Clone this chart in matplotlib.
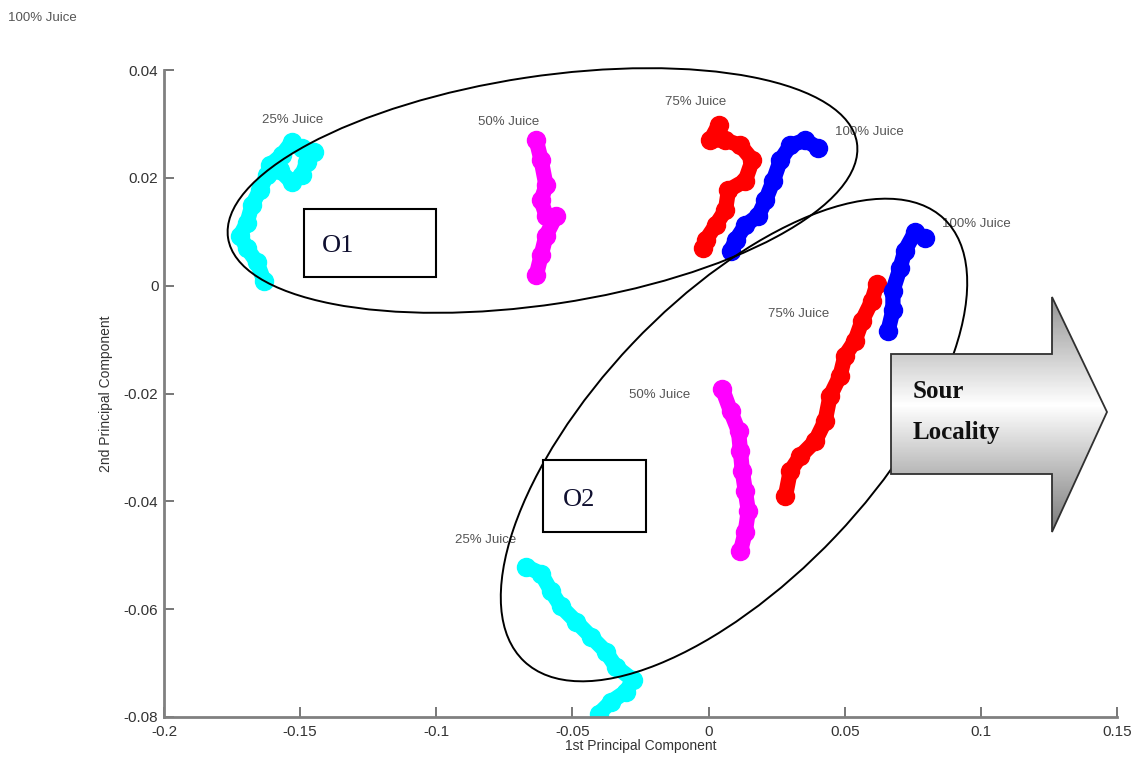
import matplotlib
matplotlib.use('Agg')
import matplotlib.pyplot as plt
import numpy as np
from matplotlib.patches import Ellipse, Rectangle, Polygon

# ---- data ----
# group O1
o1_25_x = [-0.1633, -0.1658, -0.1695, -0.1721, -0.1695, -0.1677, -0.1648, -0.1622, -0.1575,
           -0.1531, -0.1494, -0.1476, -0.1450, -0.1494, -0.1531, -0.1568, -0.1612]
o1_25_y = [0.0009, 0.0043, 0.0069, 0.0093, 0.0117, 0.0149, 0.0177, 0.0205, 0.0214,
           0.0192, 0.0205, 0.0229, 0.0247, 0.0255, 0.0266, 0.0242, 0.0223]
o1_50_x = [-0.0633, -0.0615, -0.0597, -0.0615, -0.0597, -0.0560, -0.0597, -0.0615, -0.0633]
o1_50_y = [0.0270, 0.0233, 0.0186, 0.0158, 0.0130, 0.0130, 0.0093, 0.0056, 0.0019]
o1_75_x = [0.0037, 0.0007, 0.0062, 0.0117, 0.0161, 0.0135, 0.0073, 0.0062, 0.0026, -0.0011, -0.0022]
o1_75_y = [0.0298, 0.0270, 0.0270, 0.0260, 0.0233, 0.0195, 0.0177, 0.0140, 0.0112, 0.0084, 0.0069]
o1_100_x = [0.0403, 0.0355, 0.0300, 0.0264, 0.0238, 0.0209, 0.0183, 0.0135, 0.0099, 0.0081]
o1_100_y = [0.0255, 0.0270, 0.0260, 0.0233, 0.0195, 0.0158, 0.0130, 0.0112, 0.0084, 0.0065]

# group O2
o2_25_x = [-0.0670, -0.0615, -0.0578, -0.0542, -0.0487, -0.0432, -0.0377, -0.0340, -0.0278,
           -0.0304, -0.0359, -0.0403]
o2_25_y = [-0.0521, -0.0534, -0.0567, -0.0595, -0.0623, -0.0651, -0.0679, -0.0707, -0.0731,
           -0.0753, -0.0772, -0.0794]
o2_50_x = [0.0051, 0.0081, 0.0110, 0.0117, 0.0124, 0.0135, 0.0146, 0.0135, 0.0117]
o2_50_y = [-0.0192, -0.0233, -0.0270, -0.0307, -0.0344, -0.0381, -0.0418, -0.0456, -0.0493]
o2_75_x = [0.0619, 0.0600, 0.0564, 0.0538, 0.0501, 0.0483, 0.0446, 0.0428, 0.0392, 0.0337, 0.0300, 0.0282]
o2_75_y = [0.0004, -0.0028, -0.0065, -0.0102, -0.0130, -0.0167, -0.0205, -0.0251, -0.0288,
           -0.0316, -0.0344, -0.0391]
o2_100_x = [0.0794, 0.0758, 0.0721, 0.0703, 0.0677, 0.0677, 0.0659]
o2_100_y = [0.0089, 0.0099, 0.0065, 0.0032, -0.0009, -0.0046, -0.0084]

label_text = ['25% Juice', '50% Juice', '75% Juice', '100% Juice',
              '25% Juice', '50% Juice', '75% Juice', '100% Juice']
label_x = [-0.164, -0.0846, -0.0161, 0.0465, -0.0933, -0.0293, 0.0220, 0.0856]
label_y = [0.0307, 0.0303, 0.0340, 0.0285, -0.0471, -0.0203, -0.0052, 0.0115]

xticks = [-0.2, -0.15, -0.1, -0.05, 0, 0.05, 0.1, 0.15]
yticks = [-0.08, -0.06, -0.04, -0.02, 0, 0.02, 0.04]

W, H = 1136, 760
fig = plt.figure(figsize=(W / 100, H / 100), dpi=100)
fig.patch.set_facecolor('white')
ax = fig.add_axes([164 / W, 1 - 717 / H, (1117 - 164) / W, (717 - 70) / H])

series = [
    (o1_25_x, o1_25_y, '#00ffff'), (o1_50_x, o1_50_y, '#ff00ff'),
    (o1_75_x, o1_75_y, '#ff0000'), (o1_100_x, o1_100_y, '#0000ff'),
    (o2_25_x, o2_25_y, '#00ffff'), (o2_50_x, o2_50_y, '#ff00ff'),
    (o2_75_x, o2_75_y, '#ff0000'), (o2_100_x, o2_100_y, '#0000ff'),
]
for xs, ys, c in series:
    ax.plot(xs, ys, '-o', color=c, lw=11, ms=13, solid_capstyle='round',
            solid_joinstyle='round')

for t, lx, ly in zip(label_text, label_x, label_y):
    ax.text(lx, ly, t, fontsize=9.5, color='#555555', ha='left', va='center',
            family='Liberation Sans')

ax.set_xlim(-0.2, 0.15)
ax.set_ylim(-0.08, 0.04)
ax.set_xticks(xticks)
ax.set_xticklabels(['-0.2', '-0.15', '-0.1', '-0.05', '0', '0.05', '0.1', '0.15'])
ax.set_yticks(yticks)
ax.set_yticklabels(['-0.08', '-0.06', '-0.04', '-0.02', '0', '0.02', '0.04'])
for s in ['top', 'right']:
    ax.spines[s].set_visible(False)
for s in ['left', 'bottom']:
    ax.spines[s].set_color('#808080')
    ax.spines[s].set_linewidth(2)
ax.tick_params(direction='in', length=7, width=1.2, color='#606060',
               labelsize=11, labelcolor='#333333')
ax.tick_params(axis='x', pad=6)
ax.tick_params(axis='y', pad=4)
for lab in ax.get_xticklabels() + ax.get_yticklabels():
    lab.set_family('Liberation Sans')
ax.set_xlabel('1st Principal Component', fontsize=10, color='#333333',
              family='Liberation Sans', labelpad=0)
ax.set_ylabel('2nd Principal Component', fontsize=10, color='#333333',
              family='Liberation Sans', labelpad=8)

fig.text(8 / W, 1 - 18 / H, '100% Juice', fontsize=9.5, color='#555555',
         ha='left', va='center', family='Liberation Sans')

# ---- annotation overlay in pixel coordinates ----
ov = fig.add_axes([0, 0, 1, 1])
ov.set_xlim(0, W)
ov.set_ylim(H, 0)
ov.axis('off')
ov.patch.set_alpha(0)

ov.add_patch(Ellipse((542.5, 190.5), 636, 228, angle=-8.6, fill=False,
                     ec='black', lw=1.4))
ov.add_patch(Ellipse((734, 440), 610, 280, angle=-46.5, fill=False,
                     ec='black', lw=1.4))

ov.add_patch(Rectangle((304, 209), 132, 68, fc='white', ec='black', lw=1.5))
ov.text(322, 246, 'O1', fontsize=19, family='Liberation Serif', color='#101030',
        ha='left', va='center')
ov.add_patch(Rectangle((543, 460), 103, 72, fc='white', ec='black', lw=1.5))
ov.text(563, 500, 'O2', fontsize=19, family='Liberation Serif', color='#101030',
        ha='left', va='center')

# block arrow with vertical gray gradient
arrow_pts = [(891, 354), (1052, 354), (1052, 297), (1107, 412),
             (1052, 532), (1052, 474), (891, 474)]
arrow = Polygon(arrow_pts, closed=True, fc='none', ec='#303030', lw=1.3, zorder=3)
ov.add_patch(arrow)
yy = np.linspace(297, 532, 200)
shade = np.where(yy < 405, 1 - (405 - yy) / 108 * 0.42, 1 - (yy - 405) / 127 * 0.52)
grad = np.repeat(shade[:, None], 2, axis=1)
im = ov.imshow(grad, cmap='gray', vmin=0, vmax=1, extent=(891, 1107, 532, 297),
               aspect='auto', zorder=2)
im.set_clip_path(arrow)
ov.set_xlim(0, W)
ov.set_ylim(H, 0)
ov.text(913, 392, 'Sour', fontsize=18, fontweight='bold', family='Liberation Serif',
        color='#101010', ha='left', va='center', zorder=4)
ov.text(913, 432, 'Locality', fontsize=18, fontweight='bold', family='Liberation Serif',
        color='#101010', ha='left', va='center', zorder=4)

fig.savefig('out.png', dpi=100)
